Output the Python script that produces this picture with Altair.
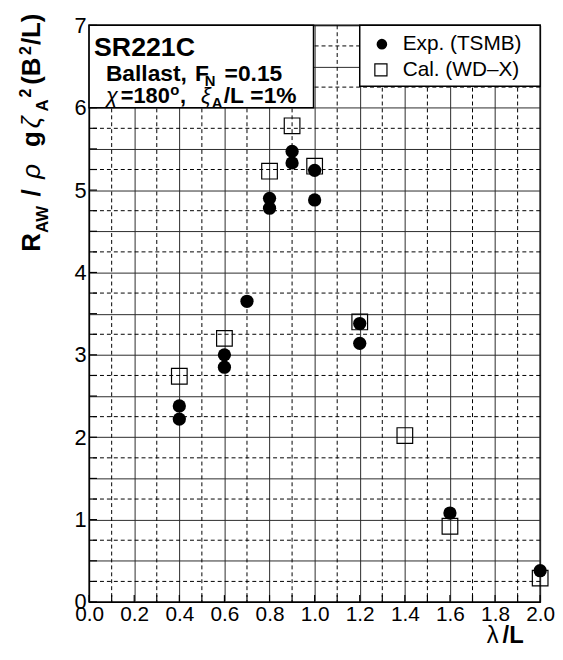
import altair as alt
import pandas as pd

# ---------------- data ----------------
exp_lambda = [0.4, 0.4, 0.6, 0.6, 0.7, 0.8, 0.8, 0.9, 0.9, 1.0, 1.0, 1.2, 1.2, 1.6, 2.0]
exp_raw = [2.38, 2.22, 3.00, 2.85, 3.65, 4.90, 4.78, 5.47, 5.33, 5.24, 4.88, 3.38, 3.14, 1.08, 0.38]

cal_lambda = [0.4, 0.6, 0.8, 0.9, 1.0, 1.2, 1.4, 1.6, 2.0]
cal_raw = [2.74, 3.20, 5.23, 5.78, 5.29, 3.40, 2.02, 0.92, 0.29]

x_major = [0.0, 0.2, 0.4, 0.6, 0.8, 1.0, 1.2, 1.4, 1.6, 1.8, 2.0]
x_minor = [0.1, 0.3, 0.5, 0.7, 0.9, 1.1, 1.3, 1.5, 1.7, 1.9]
y_major = [0.0, 0.5, 1.0, 1.5, 2.0, 2.5, 3.0, 3.5, 4.0, 4.5, 5.0, 5.5, 6.0, 6.5, 7.0]
y_minor = [0.25, 0.75, 1.25, 1.75, 2.25, 2.75, 3.25, 3.75, 4.25, 4.75,
           5.25, 5.75, 6.25, 6.75]

legend_labels = ["Exp. (TSMB)", "Cal.  (WD\u2013X)"]

FONT = "Liberation Sans"
W, H = 456, 583

exp_df = pd.DataFrame({"lam": exp_lambda, "raw": exp_raw})
cal_df = pd.DataFrame({"lam": cal_lambda, "raw": cal_raw})
one = alt.Data(values=[{"k": 0}])

xscale = alt.Scale(domain=[0, 2], nice=False, zero=False)
yscale = alt.Scale(domain=[0, 7], nice=False, zero=False)

x_axis = alt.Axis(values=x_major, format=".1f", title=None, grid=True,
                  gridColor="#2a2a2a", gridWidth=1, ticks=False,
                  domainColor="black", labelFont=FONT, labelFontSize=21,
                  labelColor="black", labelPadding=2, labelFlush=False,
                  labelOverlap=False)
y_axis = alt.Axis(values=y_major, title=None, grid=True,
                  labelExpr="datum.value % 1 == 0 ? format(datum.value, 'd') : ''",
                  gridColor="#2a2a2a", gridWidth=1, ticks=False,
                  domainColor="black", labelFont=FONT, labelFontSize=22,
                  labelColor="black", labelPadding=3, labelFlush=False,
                  labelOverlap=False)

# minor dashed grid
xminor = alt.Chart(pd.DataFrame({"v": x_minor})).mark_rule(
    color="black", strokeDash=[4, 3], strokeWidth=1
).encode(x=alt.X("v:Q", scale=xscale, axis=x_axis))
yminor = alt.Chart(pd.DataFrame({"v": y_minor})).mark_rule(
    color="black", strokeDash=[4, 3], strokeWidth=1
).encode(y=alt.Y("v:Q", scale=yscale, axis=y_axis))

# inward ticks
xticks = alt.Chart(pd.DataFrame({"v": x_major + x_minor})).mark_rule(
    color="black", strokeWidth=1.2
).encode(x=alt.X("v:Q", scale=xscale, axis=x_axis), y=alt.value(H), y2=alt.value(H - 7))
yticks = alt.Chart(pd.DataFrame({"v": y_major + y_minor})).mark_rule(
    color="black", strokeWidth=1.2
).encode(y=alt.Y("v:Q", scale=yscale, axis=y_axis), x=alt.value(0), x2=alt.value(8))

# annotation boxes
title_box = alt.Chart(one).mark_rect(fill="white", stroke="black", strokeWidth=1.5).encode(
    x=alt.XDatum(0.0, scale=xscale, axis=x_axis), x2=alt.X2Datum(0.995),
    y=alt.YDatum(6.0, scale=yscale, axis=y_axis), y2=alt.Y2Datum(7.0))
legend_box = alt.Chart(one).mark_rect(fill="white", stroke="black", strokeWidth=1.5).encode(
    x=alt.XDatum(1.2, scale=xscale, axis=x_axis), x2=alt.X2Datum(2.0),
    y=alt.YDatum(6.26, scale=yscale, axis=y_axis), y2=alt.Y2Datum(7.0))

cal = alt.Chart(cal_df).mark_point(
    shape="square", filled=False, stroke="black", strokeWidth=1.2, size=250, opacity=1
).encode(x=alt.X("lam:Q", scale=xscale, axis=x_axis), y=alt.Y("raw:Q", scale=yscale, axis=y_axis))

exp = alt.Chart(exp_df).mark_point(
    shape="circle", filled=True, color="black", size=180, opacity=1
).encode(x=alt.X("lam:Q", scale=xscale, axis=x_axis), y=alt.Y("raw:Q", scale=yscale, axis=y_axis))


def txt(s, x, y, size, bold=True, italic=False, angle=0, align="left", baseline="alphabetic"):
    kw = dict(text=s, font=FONT, fontSize=size, fontWeight="bold" if bold else "normal",
              fontStyle="italic" if italic else "normal", align=align,
              baseline=baseline, color="black")
    if angle:
        kw["angle"] = angle
    return alt.Chart(one).mark_text(**kw).encode(x=alt.value(x), y=alt.value(y))


texts = [
    # box text
    txt("SR221C", 5, 31, 27),
    txt("Ballast,", 17, 56, 23),
    txt("F", 107, 56, 23),
    txt("N", 117, 61, 15),
    txt("=0.15", 137, 56, 23),
    txt("\u03c7", 17, 79, 22, bold=False, italic=True),
    txt("=180", 32, 79, 22),
    txt("o", 82, 70, 15),
    txt(",", 92, 79, 22),
    txt("\u03be", 113, 79, 22, bold=False, italic=True),
    txt("A", 124, 84, 15),
    txt("/L", 136, 79, 23),
    txt("=1%", 163, 79, 23),
    # legend
    txt(legend_labels[0], 317, 19, 21, bold=False, baseline="middle"),
    txt(legend_labels[1], 317, 45, 21, bold=False, baseline="middle"),
    # y-axis title (rotated pieces)
    txt("R", -50, 229, 26, angle=270),
    txt("AW", -42, 210, 17, angle=270),
    txt("/", -50, 173, 26, angle=270),
    txt("\u03c1", -50, 155, 26, bold=False, italic=True, angle=270),
    txt("g", -50, 123, 26, angle=270),
    txt("\u03b6", -50, 104, 26, bold=False, italic=True, angle=270),
    txt("A", -42, 87, 17, angle=270),
    txt("2", -59, 73, 16, angle=270),
    txt("(B", -50, 60, 26, angle=270),
    txt("2", -59, 30, 16, angle=270),
    txt("/L)", -50, 20, 26, angle=270),
    # x-axis title
    txt("\u03bb", 402, 624, 24, bold=False),
    txt("/L", 418, 624, 24),
]

legend_pts = alt.Chart(one).mark_point(shape="circle", filled=True, color="black", size=115, opacity=1).encode(
    x=alt.value(296), y=alt.value(19))
legend_sq = alt.Chart(one).mark_point(shape="square", filled=False, stroke="black", strokeWidth=1.2,
                                      size=150, opacity=1).encode(x=alt.value(295), y=alt.value(45))

chart = alt.layer(
    xminor, yminor, xticks, yticks, title_box, legend_box, cal, exp, legend_pts, legend_sq, *texts
).properties(
    width=W, height=H,
    autosize=alt.AutoSizeParams(type="none"),
    padding={"left": 82, "top": 14, "right": 15, "bottom": 46},
    background="white",
).configure_view(stroke="black", strokeWidth=1.5)

chart.save("out.html", embed_options={"renderer": "svg", "actions": False})
